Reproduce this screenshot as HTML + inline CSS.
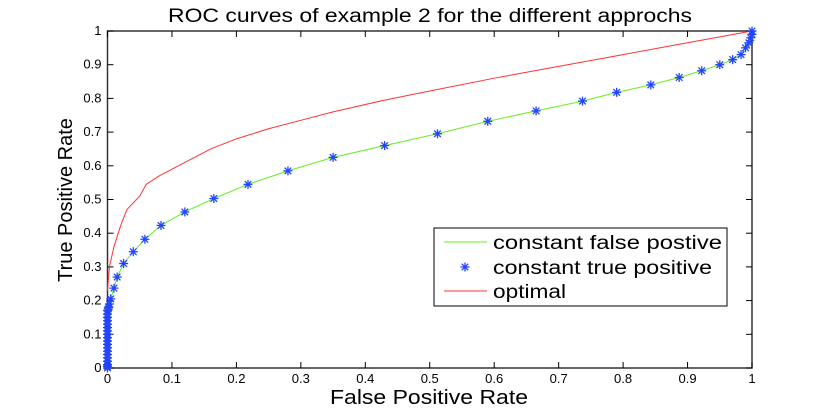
<!DOCTYPE html>
<html><head><meta charset="utf-8"><style>
body{margin:0;background:#fff;width:830px;height:415px;overflow:hidden}
text{font-family:"Liberation Sans",sans-serif}
</style></head><body>
<svg id="chart" width="830" height="415" xmlns="http://www.w3.org/2000/svg"></svg>
<script>
const xTicks=[0,0.1,0.2,0.3,0.4,0.5,0.6,0.7,0.8,0.9,1];
const yTicks=[0,0.1,0.2,0.3,0.4,0.5,0.6,0.7,0.8,0.9,1];
const tpX=[0,0,0,0,0,0,0,0,0,0,0,0,0,0,0,0,0,0,0,0.001,0.002,0.003,0.005,0.01,0.015,0.025,0.04,0.058,0.083,0.12,0.165,0.218,0.28,0.35,0.43,0.512,0.59,0.665,0.737,0.79,0.843,0.887,0.922,0.95,0.97,0.983,0.99,0.995,0.998,1,1];
const tpY=[0,0.005,0.01,0.02,0.03,0.04,0.05,0.06,0.07,0.08,0.09,0.1,0.11,0.12,0.13,0.14,0.15,0.16,0.17,0.175,0.18,0.19,0.205,0.237,0.27,0.31,0.345,0.382,0.423,0.463,0.503,0.545,0.585,0.625,0.66,0.695,0.732,0.763,0.792,0.818,0.84,0.862,0.882,0.9,0.915,0.93,0.95,0.965,0.98,0.99,1];
const optX=[0,0.003,0.01,0.02,0.03,0.05,0.06,0.08,0.1,0.13,0.16,0.2,0.25,0.3,0.35,0.43,0.5,0.6,0.7,0.8,0.9,1];
const optY=[0.23,0.3,0.36,0.42,0.47,0.51,0.545,0.57,0.59,0.62,0.65,0.68,0.71,0.735,0.76,0.795,0.822,0.86,0.895,0.93,0.965,1];
const X0=107.5,X1=752,Y0=368,Y1=31;
const sx=v=>X0+(X1-X0)*v, sy=v=>Y0-(Y0-Y1)*v;
const svg=document.getElementById('chart');
const NS='http://www.w3.org/2000/svg';
function mk(tag,attrs,txt){const e=document.createElementNS(NS,tag);for(const k in attrs)e.setAttribute(k,attrs[k]);if(txt!==undefined)e.textContent=txt;svg.appendChild(e);return e;}
let e;
e=mk('rect',{x:X0,y:Y1,width:X1-X0,height:Y0-Y1,fill:'#fff',stroke:'#333','stroke-width':1.5});


xTicks.forEach(t=>{
 e=mk('line',{x1:sx(t),x2:sx(t),y1:Y0,y2:Y0-6,stroke:'#000'});
 
 
 mk('line',{x1:sx(t),x2:sx(t),y1:Y1,y2:Y1+6,stroke:'#000'});
 e=mk('text',{x:sx(t),y:Y0+15,'font-size':13,'text-anchor':'middle'},String(t));
 
 
});
yTicks.forEach(t=>{
 e=mk('line',{x1:X0,x2:X0+6,y1:sy(t),y2:sy(t),stroke:'#000'});
 
 
 mk('line',{x1:X1,x2:X1-6,y1:sy(t),y2:sy(t),stroke:'#000'});
 e=mk('text',{x:X0-6,y:sy(t)+4,'font-size':13,'text-anchor':'end'},String(t));
 
 
});
e=mk('polyline',{points:tpX.map((v,i)=>sx(v)+','+sy(tpY[i])).join(' '),fill:'none',stroke:'#66ee22','stroke-width':1});


e=mk('polyline',{points:optX.map((v,i)=>sx(v)+','+sy(optY[i])).join(' '),fill:'none',stroke:'#ff3333','stroke-width':1});


function star(cx,cy){
 const g=document.createElementNS(NS,'g');g.setAttribute('stroke','#2244ff');g.setAttribute('stroke-width','1.3');
 [[-4.5,0,4.5,0],[0,-4.5,0,4.5],[-3.3,-3.3,3.3,3.3],[-3.3,3.3,3.3,-3.3]].forEach(a=>{const l=document.createElementNS(NS,'line');l.setAttribute('x1',cx+a[0]);l.setAttribute('y1',cy+a[1]);l.setAttribute('x2',cx+a[2]);l.setAttribute('y2',cy+a[3]);g.appendChild(l);});
 svg.appendChild(g);return g;
}
tpX.forEach((v,i)=>{
 e=star(sx(v),sy(tpY[i]));
 
 
});
e=mk('text',{x:168,y:22,'font-size':19,textLength:524,lengthAdjust:'spacingAndGlyphs'},'ROC curves of example 2 for the different approchs');


e=mk('text',{x:330,y:404,'font-size':20,textLength:198,lengthAdjust:'spacingAndGlyphs'},'False Positive Rate');


e=mk('text',{x:0,y:0,'font-size':20,'text-anchor':'middle',transform:'translate(72,200) rotate(-90)'},'True Positive Rate');


e=mk('rect',{x:434,y:228,width:293,height:78,fill:'#fff',stroke:'#000','stroke-width':1});


mk('line',{x1:444,x2:487,y1:242,y2:242,stroke:'#66ee22'});
e=mk('text',{x:493,y:249,'font-size':19,textLength:229,lengthAdjust:'spacingAndGlyphs'},'constant false postive');


star(465,267);
e=mk('text',{x:493,y:274,'font-size':19,textLength:219,lengthAdjust:'spacingAndGlyphs'},'constant true positive');


mk('line',{x1:444,x2:487,y1:291,y2:291,stroke:'#ff3333'});
e=mk('text',{x:493,y:298,'font-size':19,textLength:73,lengthAdjust:'spacingAndGlyphs'},'optimal');


</script>
</body></html>
